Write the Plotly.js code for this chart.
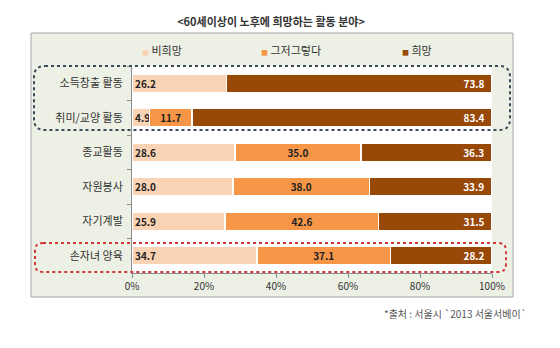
<!DOCTYPE html>
<html><head><meta charset="utf-8">
<script src="https://cdn.plot.ly/plotly-3.0.1.min.js"></script>
<style>html,body{margin:0;padding:0;background:#fff;}#chart{width:560px;height:348px;}</style>
</head><body><div id="chart"></div>
<script>
const categories = ['소득창출 활동','취미/교양 활동','종교활동','자원봉사','자기계발','손자녀 양육'];
const seriesNames = ['비희망','그저그렇다','희망'];
const notWanted = [26.2, 4.9, 28.6, 28.0, 25.9, 34.7];
const neutral   = [null, 11.7, 35.0, 38.0, 42.6, 37.1];
const wanted    = [73.8, 83.4, 36.3, 33.9, 31.5, 28.2];
const xTicks = [0, 20, 40, 60, 80, 100];
const xTickLabels = ['0%', '20%', '40%', '60%', '80%', '100%'];
const titleText = '&lt;60세이상이 노후에 희망하는 활동 분야&gt;';
const sourceText = '*출처 : 서울시 `2013 서울서베이`';

const colors = ['#fad3b4', '#f79646', '#984807'];
const FONT = '"Noto Sans CJK KR", "Noto Sans", sans-serif';
const NB = '\u00a0';

// plot area in pixels
const L = 132, R = 492, T = 66, B = 273;
const px = x => (x - L) / (R - L);
const py = y => (B - y) / (B - T);

function roundRect(x0, y0, x1, y1, r) {
  const X0 = px(x0), X1 = px(x1), Y0 = py(y1), Y1 = py(y0);
  const rx = r / (R - L), ry = r / (B - T);
  return `M ${X0+rx},${Y1} L ${X1-rx},${Y1} Q ${X1},${Y1} ${X1},${Y1-ry} L ${X1},${Y0+ry} Q ${X1},${Y0} ${X1-rx},${Y0} L ${X0+rx},${Y0} Q ${X0},${Y0} ${X0},${Y0+ry} L ${X0},${Y1-ry} Q ${X0},${Y1} ${X0+rx},${Y1} Z`;
}

const series = [notWanted, neutral, wanted];
const anchors = ['start', 'middle', 'end'];
const templates = ['%{x:.1f}', '%{x:.1f}', '%{x:.1f}' + NB + NB];
const textColors = ['#222', '#222', '#ffffff'];

const traces = series.map((vals, i) => ({
  type: 'bar', orientation: 'h',
  name: seriesNames[i],
  y: categories, x: vals,
  marker: {color: colors[i], line: {color: '#ffffff', width: 1.5}},
  texttemplate: templates[i],
  textposition: 'inside',
  insidetextanchor: anchors[i],
  constraintext: 'none',
  textangle: 0,
  insidetextfont: {family: FONT, size: 10, color: textColors[i], weight: 'bold'},
  hoverinfo: 'skip'
}));

const legendX = [140, 259, 400];
const annotations = seriesNames.map((n, i) => ({
  xref: 'paper', yref: 'paper', x: px(legendX[i]), y: py(50),
  xanchor: 'left', yanchor: 'middle', showarrow: false,
  text: `<span style="color:${colors[i]};font-size:7px">■</span> ${n}`,
  font: {family: FONT, size: 11, color: '#333'}
}));
annotations.push({
  xref: 'paper', yref: 'paper', x: px(529), y: py(313),
  xanchor: 'right', yanchor: 'middle', showarrow: false,
  text: sourceText, font: {family: FONT, size: 10, color: '#555'}
});

const shapes = [
  {type: 'rect', xref: 'paper', yref: 'paper', layer: 'below',
   x0: px(31), x1: px(513), y0: py(297), y1: py(33),
   fillcolor: '#edf0e4', line: {color: '#a6a6a6', width: 1}},
  {type: 'rect', xref: 'paper', yref: 'paper', layer: 'below',
   x0: 0, x1: 1, y0: 0, y1: 1, fillcolor: '#ffffff', line: {width: 0}},
  {type: 'path', xref: 'paper', yref: 'paper', layer: 'above',
   path: roundRect(34, 66, 510, 130, 11),
   line: {color: '#3b4a5a', width: 2, dash: 'dot'}},
  {type: 'path', xref: 'paper', yref: 'paper', layer: 'above',
   path: roundRect(35, 243, 506, 272, 8),
   line: {color: '#d23a3a', width: 2, dash: 'dot'}}
];

const layout = {
  width: 560, height: 348,
  margin: {l: L, r: 560 - R, t: T, b: 348 - B, pad: 0},
  paper_bgcolor: '#ffffff', plot_bgcolor: 'rgba(0,0,0,0)',
  barmode: 'stack', bargap: 0.45,
  showlegend: false,
  title: {text: titleText, x: 271 / 560, y: 1 - 22 / 348, xanchor: 'center', yanchor: 'middle',
          font: {family: FONT, size: 11, color: '#333', weight: 'bold'}},
  font: {family: FONT, color: '#333'},
  xaxis: {range: [0, 100], tickmode: 'array', tickvals: xTicks, ticktext: xTickLabels,
          showgrid: false, zeroline: false,
          showline: true, linecolor: '#8c8c8c', linewidth: 1, ticks: 'outside', ticklen: 4,
          tickcolor: '#8c8c8c', tickfont: {family: FONT, size: 10, color: '#333'}, fixedrange: true},
  yaxis: {type: 'category', categoryorder: 'array', categoryarray: categories, autorange: 'reversed',
          showgrid: false, zeroline: false, showline: true, linecolor: '#8c8c8c', linewidth: 1,
          ticks: 'outside', tickson: 'boundaries', ticklen: 4, tickcolor: '#8c8c8c',
          ticklabelstandoff: 6,
          tickfont: {family: FONT, size: 11, color: '#333'}, fixedrange: true},
  shapes: shapes,
  annotations: annotations
};

Plotly.newPlot('chart', traces, layout, {displayModeBar: false, staticPlot: true});
</script></body></html>
